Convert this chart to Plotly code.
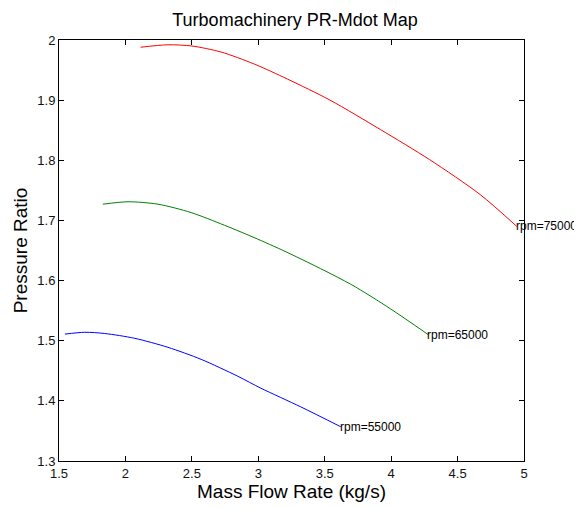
import plotly.graph_objects as go

x_75000 = [2.114, 2.32, 2.50, 2.72, 2.97, 3.22, 3.54, 3.92, 4.29, 4.67, 4.946]
y_75000 = [1.988, 1.992, 1.990, 1.980, 1.960, 1.935, 1.900, 1.851, 1.801, 1.743, 1.690]

x_65000 = [1.83, 2.02, 2.245, 2.495, 2.745, 2.995, 3.245, 3.695, 3.995, 4.28]
y_65000 = [1.727, 1.731, 1.727, 1.713, 1.692, 1.669, 1.644, 1.594, 1.553, 1.510]

x_55000 = [1.544, 1.694, 1.844, 2.07, 2.32, 2.57, 2.845, 3.02, 3.32, 3.62]
y_55000 = [1.511, 1.514, 1.512, 1.504, 1.489, 1.469, 1.441, 1.421, 1.390, 1.357]

labels = ["rpm=75000", "rpm=65000", "rpm=55000"]
colors = ["#ff0000", "#008000", "#0000ff"]

series = [(x_75000, y_75000), (x_65000, y_65000), (x_55000, y_55000)]

FONT = "Liberation Sans, Arial, Helvetica"

fig = go.Figure()
for (xs, ys), c, lab in zip(series, colors, labels):
    fig.add_trace(go.Scatter(x=xs, y=ys, mode="lines",
                             line=dict(color=c, width=1, shape="spline", smoothing=0.8),
                             showlegend=False, hoverinfo="skip"))
    fig.add_annotation(x=xs[-1], y=ys[-1], text=lab, showarrow=False,
                       xanchor="left", yanchor="middle", xshift=-3,
                       font=dict(family=FONT, size=12, color="#000000"))

axis_common = dict(showgrid=False, zeroline=False, showline=True, linecolor="#000000", linewidth=1,
                   ticks="inside", ticklen=5, tickcolor="#000000", mirror="ticks",
                   tickfont=dict(family=FONT, size=13, color="#111111"))

fig.update_layout(
    width=574, height=500,
    margin=dict(l=49, r=58, t=32, b=45),
    paper_bgcolor="white", plot_bgcolor="white",
    title=dict(text="Turbomachinery PR-Mdot Map", x=0.5, xanchor="center", y=0.976, yanchor="middle",
               font=dict(family=FONT, size=18, color="#000000")),
    xaxis=dict(range=[1.5, 5], tickvals=[1.5, 2, 2.5, 3, 3.5, 4, 4.5, 5],
               ticktext=["1.5", "2", "2.5", "3", "3.5", "4", "4.5", "5"],
               title=dict(text="Mass Flow Rate (kg/s)", standoff=2,
                          font=dict(family=FONT, size=19, color="#000000")),
               **axis_common),
    yaxis=dict(range=[1.3, 2], tickvals=[1.3, 1.4, 1.5, 1.6, 1.7, 1.8, 1.9, 2],
               ticktext=["1.3", "1.4", "1.5", "1.6", "1.7", "1.8", "1.9", "2"],
               title=dict(text="Pressure Ratio", standoff=4,
                          font=dict(family=FONT, size=19, color="#000000")),
               **axis_common),
)

fig.write_html("out.html")
